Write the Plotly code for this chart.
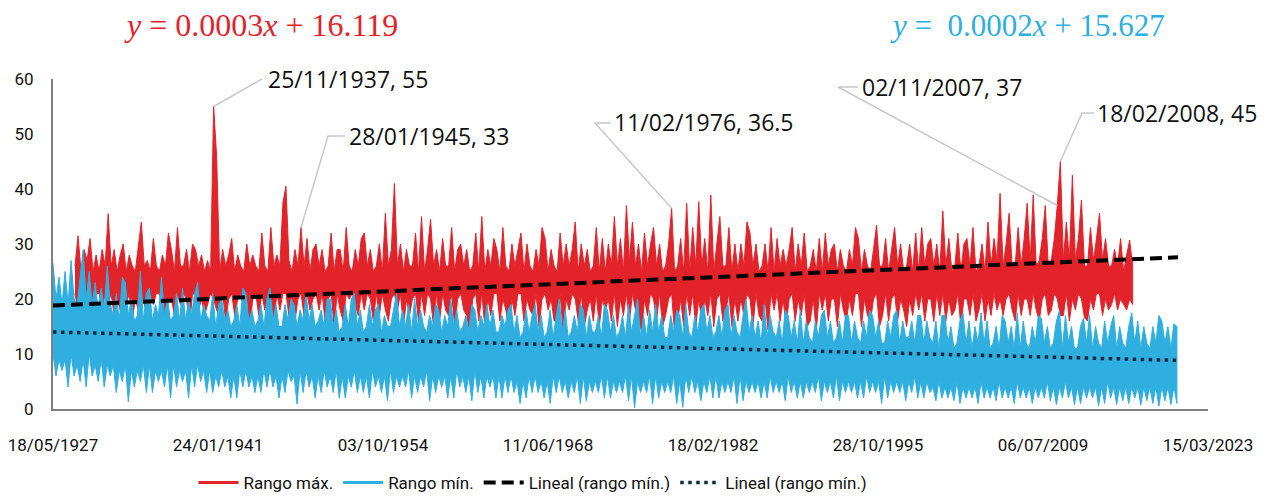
import plotly.graph_objects as go

# ---------------- data ----------------
# x axis: Excel-style serial day numbers (10000 = 18/05/1927)
tick_vals = [10000, 15000, 20000, 25000, 30000, 35000, 40000, 45000]
tick_text = ["18/05/1927", "24/01/1941", "03/10/1954", "11/06/1968",
             "18/02/1982", "28/10/1995", "06/07/2009", "15/03/2023"]

step_days = 91.31          # width of one sampled column (days)
red_start = 10667          # first serial of "Rango máx."
blue_start = 10000         # first serial of "Rango mín."

# "Rango máx." : per-column upper and lower values (4 columns per year)
rango_max_hi = [
    26, 31.5, 25, 29,  27, 31, 25, 28,  25, 29, 26, 35.5,  26, 29, 25, 28,
    30, 25, 28, 26,  25, 29, 34, 26,  27, 25, 31, 26,  25, 28, 26, 32,
    29, 25, 33, 26,  26, 29, 25, 30,  29, 26, 28, 25,  27, 25, 55, 46,
    25, 29, 26, 28,  31, 25, 28, 26,  25, 30, 26, 28,  26, 25, 32, 26,
    25, 33, 26, 28,  26, 37.5, 40.5, 27,  25, 29, 26, 33,  26, 31, 25, 29,
    30, 26, 29, 25,  26, 32, 25, 29,  29, 25, 33, 26,  25, 29, 26, 31,
    32, 26, 29, 25,  26, 30, 25, 35.6,  26, 29, 41, 26,  30, 25, 29, 26,
    26, 32, 25, 35,  25, 29, 34.5, 26,  29, 25, 31, 26,  26, 33, 25, 29,
    30, 26, 29, 25,  26, 32, 25, 35,  25, 29, 26, 31,  29, 25, 33, 26,
    25, 30, 26, 29,  32, 25, 30, 26,  25, 29, 26, 33,  31, 25, 29, 26,
    25, 32, 26, 30,  26, 29, 34, 25,  30, 26, 29, 25,  26, 33, 25, 31,
    25, 30, 26, 35,  26, 31, 25, 37,  27, 34, 26, 30,  25, 32, 26, 30,
    33, 26, 30, 25,  26, 30, 36.5, 25,  26, 31, 25, 37.4,  25, 33, 26, 37.7,
    26, 31, 25, 38.9,  25, 30, 35, 26,  26, 33, 25, 30,  25, 30, 26, 34,
    32, 26, 30, 25,  26, 30, 25, 33,  25, 31, 26, 29,  26, 29, 33, 25,
    30, 26, 32, 25,  26, 29, 25, 31,  25, 32, 26, 29,  30, 25, 29, 26,
    25, 29, 26, 33,  31, 25, 29, 26,  25, 29, 33.4, 26,  26, 31, 25, 29,
    33, 26, 30, 25,  26, 30, 25, 32,  25, 33, 26, 30,  31, 26, 30, 25,
    36, 26, 31, 25,  26, 32, 25, 30,  31, 26, 33, 25,  26, 30, 25, 34,
    26, 31, 27, 39.2,  26, 30, 35.6, 26,  26, 33, 26, 31,  37.4, 27, 38.9, 26,
    27, 31, 37, 26,  27, 31, 37, 45,  27, 34, 27, 42.5,  27, 31, 38, 26,
    26, 33, 27, 31,  35.6, 27, 31, 26,  26, 29, 26, 31,  25, 28, 30.7, 26,
]
rango_max_lo = [
    21, 18, 21, 19,  20, 21, 17, 21,  21, 18, 21, 19,  21, 17, 20, 18,
    21, 19, 21, 16,  20, 18, 21, 19,  17, 21, 19, 21,  21, 18, 16, 20,
    20, 17, 21, 19,  21, 20, 15, 21,  21, 18, 20, 17,  19, 21, 20, 18,
    17, 21, 16, 20,  21, 17, 20, 21,  18, 21, 15, 20,  21, 17, 21, 18,
    20, 21, 16, 21,  18, 21, 21, 17,  21, 16, 20, 21,  17, 21, 18, 20,
    21, 18, 21, 16,  20, 21, 15, 21,  18, 16, 21, 20,  21, 19, 17, 21,
    18, 21, 20, 16,  21, 17, 21, 18,  16, 20, 21, 18,  21, 15, 20, 17,
    20, 21, 16, 21,  17, 21, 20, 15,  21, 16, 21, 18,  17, 21, 15, 20,
    21, 18, 17, 14,  20, 21, 16, 21,  15, 20, 17, 21,  21, 16, 20, 18,
    14, 20, 17, 21,  21, 16, 20, 18,  17, 21, 15, 20,  21, 18, 20, 16,
    16, 21, 14, 20,  18, 21, 20, 16,  21, 15, 18, 20,  16, 21, 15, 20,
    18, 20, 16, 21,  15, 20, 17, 21,  16, 21, 18, 17,  14, 20, 17, 21,
    20, 16, 21, 15,  17, 20, 21, 13.8,  16, 20, 15, 21,  17, 21, 15, 20,
    16, 20, 17, 21,  15, 20, 21, 16,  18, 21, 15, 20,  16, 20, 17, 21,
    20, 15, 21, 17,  16, 20, 14.4, 21,  18, 21, 16, 20,  15, 20, 21, 16,
    20, 17, 21, 15,  16, 20, 14, 21,  18, 21, 16, 20,  20, 15, 21, 18,
    16, 20, 17, 21,  21, 15, 20, 17,  16, 20, 21, 15,  17, 21, 16, 20,
    21, 16, 20, 18,  15, 20, 17, 21,  18, 21, 16, 20,  20, 15.9, 21, 17,
    21, 16, 20, 17,  18, 21, 15, 20,  20, 17, 21, 16,  18, 21, 16, 20,
    17, 21, 18, 20,  17, 20, 21, 18,  16, 21, 17, 20,  20, 17, 21, 18,
    16, 20, 21, 17,  18, 21, 20, 17,  17, 21, 16, 20,  18, 21, 20, 16.7,
    16, 20, 18, 21,  21, 17, 20, 18,  19, 21, 18, 20,  19, 18, 20, 19,
]

# "Rango mín." : per-column upper and lower values (4 columns per year)
rango_min_hi = [
    26.5, 20, 24, 19,  25, 19, 27, 20,  19, 24, 28.9, 20,  25, 19, 23, 18,
    22, 18, 26, 19,  17, 21, 16, 24,  23, 17, 20, 16,  17, 25, 16, 21,
    22, 16, 19, 17,  24, 17, 20, 16,  17, 21, 16, 22,  16, 20, 17, 21,
    23, 16, 19, 17,  16, 21, 15, 19,  20, 16, 18, 15,  16, 19, 15, 22,
    21, 16, 18, 15,  16, 19, 15, 20,  22, 16, 19, 15,  15, 19, 16, 20,
    19, 15, 18, 16,  21, 16, 19, 15,  16, 18, 15, 20,  20, 15, 18, 14,
    15, 19, 15, 20,  21, 15, 18, 14,  15, 19, 15, 18,  19, 14, 17, 15,
    15, 18, 21, 15,  18, 15, 19, 14,  20, 15, 18, 15,  14, 17, 15, 19,
    18, 14, 17, 15,  20, 15, 18, 14,  15, 17, 14, 19,  18, 14, 17, 15,
    19, 15, 18, 14,  14, 17, 15, 18,  19, 14, 17, 13,  14, 18, 14, 17,
    19, 14, 17, 13,  14, 18, 13, 17,  20, 14, 18, 13,  14, 17, 14, 19,
    18, 13, 17, 14,  14, 17, 13, 19,  18, 14, 17, 13,  14, 17, 13, 19,
    14, 17, 20, 13,  17, 13, 18, 14,  19, 14, 17, 13,  13, 17, 14, 18,
    17, 13, 19, 14,  13, 17, 14, 18,  19, 14, 17, 13,  14, 17, 13, 18,
    19, 13, 17, 14,  13, 17, 20, 14,  17, 13, 16, 12,  19, 13, 17, 14,
    13, 16, 12, 18,  17, 13, 16, 12,  18, 12, 16, 13,  12, 16, 13, 17,
    18, 13, 16, 12,  13, 16, 12, 17,  17, 12, 16, 13,  12, 16, 13, 18,
    17, 13, 16, 12,  12, 16, 13, 17,  18, 12, 16, 13,  13, 16, 12, 17,
    17, 12, 16, 13,  12, 16, 11, 17,  17, 12, 15, 11,  12, 16, 17.5, 12,
    16, 11, 15, 12,  17.5, 12, 16, 11,  12, 15, 11, 17,  16, 12, 15, 11,
    17.5, 11, 16, 12,  11, 15, 12, 17,  16.5, 12, 15, 11,  12, 16, 17.9, 11,
    17, 12, 15, 11,  11, 15, 16.5, 12,  17, 11, 15, 12,  11, 16, 12, 15,
    17, 11, 15, 12,  11, 15, 17.5, 12,  16, 11, 15, 12,  11, 15, 12, 17,
    16, 12, 15, 11,  15.5, 15,
]
rango_min_lo = [
    10, 6, 9, 7,  9, 4, 10, 6,  8, 5, 9, 4,  10, 6, 8, 5,
    9, 4, 8, 6,  8, 3, 7, 5,  8, 1.3, 7, 4,  7, 5, 8, 3,
    8, 3, 7, 5,  7, 4, 8, 2,  8, 4, 7, 5,  7, 2, 8, 4,
    8, 5, 7, 3,  7, 3, 6, 4,  7, 4, 6, 2,  6, 2, 7, 4,
    7, 4, 6, 3,  6, 3, 7, 4,  7, 4, 6, 2,  6, 3, 7, 5,
    6, 0.9, 7, 3,  7, 4, 6, 2,  6, 3, 7, 4,  6, 3, 7, 2,
    6, 2, 6, 4,  7, 3, 6, 3,  6, 2, 7, 4,  6, 3, 6, 1.5,
    7, 3, 6, 4,  6, 4, 7, 2,  6, 3, 6, 4,  7, 1.5, 6, 3,
    6, 4, 6, 2,  6, 2, 7, 4,  6, 3, 6, 1.5,  7, 3, 6, 2,
    6, 4, 6, 2,  6, 2, 6, 3,  6, 3, 5, 1,  5, 2, 6, 3,
    6, 3, 5, 2,  5, 1, 6, 3,  6, 3, 5, 2,  5, 3, 6, 1,
    6, 1.5, 5, 3,  5, 3, 6, 2,  6, 2, 5, 3,  5, 3, 6, 1.5,
    6, 0.2, 5, 3,  5, 3, 6, 1,  6, 2, 5, 3,  5, 3, 6, 1,
    5, 0.3, 6, 3,  6, 3, 5, 1.5,  5, 3, 6, 2,  6, 2, 5, 3,
    5, 3, 6, 1,  6, 1.5, 5, 3,  5, 3, 5, 2,  5, 2, 6, 3,
    5, 3, 5, 1.5,  6, 3, 5, 2,  5, 2, 5, 3,  5, 3, 6, 1.5,
    5, 3, 5, 2,  6, 1.5, 5, 3,  5, 3, 5, 2,  5, 2, 6, 3,
    5, 3, 5, 1,  6, 2, 5, 3,  5, 3, 5, 1.5,  5, 3, 6, 2,
    5, 2, 5, 3,  4, 1.5, 5, 2,  4, 2, 4, 1.5,  5, 1, 4, 2,
    4, 2, 4, 1,  5, 2, 4, 2,  4, 1.5, 5, 2,  4, 2, 4, 1,
    5, 2, 4, 2,  4, 1, 4, 2,  4, 2, 5, 1.5,  4, 0.8, 4, 2,
    5, 2, 4, 0.8,  4, 1, 4, 2,  4, 2, 4, 0.6,  4, 1, 5, 2,
    4, 0.8, 4, 1.5,  4, 1, 4, 2,  4, 0.7, 4, 1.5,  4, 1, 4, 0.5,
    4, 1.5, 4, 0.8,  4, 1,
]

# linear trend lines (end points)
trend_max_x = [10000, 44091]
trend_max_y = [18.8, 27.6]
trend_min_x = [10000, 44091]
trend_min_y = [14.0, 8.85]

# callouts: text and index of the column of "Rango máx." they point at
callout_text = ["25/11/1937, 55", "28/01/1945, 33", "11/02/1976, 36.5",
                "02/11/2007, 37", "18/02/2008, 45"]
callout_idx = [46, 75, 198, 326, 327]

eq_max = "<i>y</i> = 0.0003<i>x</i> + 16.119"
eq_min = "<i>y</i> =  0.0002<i>x</i> + 15.627"

# ---------------- figure ----------------
RED = "#E3232A"
BLUE = "#2FAEE0"
NAVY = "#0E2841"

X0, X1 = 10000, 45000
Y0, Y1 = 0, 60
L, T, W_PLOT, H_PLOT = 53, 79, 1155, 330
W, H = 1277, 496


def band(start, hi, lo):
    n = min(len(hi), len(lo))
    xs = [start + i * step_days for i in range(n)]
    return xs, xs + xs[::-1], list(hi[:n]) + list(lo[:n])[::-1]


red_x, red_px, red_py = band(red_start, rango_max_hi, rango_max_lo)
blue_x, blue_px, blue_py = band(blue_start, rango_min_hi, rango_min_lo)

fig = go.Figure()
fig.add_trace(go.Scatter(x=red_px, y=red_py, mode="lines", fill="toself",
                         fillcolor=RED, line=dict(color=RED, width=1),
                         showlegend=False, hoverinfo="skip"))
fig.add_trace(go.Scatter(x=[None], y=[None], mode="lines", name="Rango máx.",
                         line=dict(color=RED, width=3)))
fig.add_trace(go.Scatter(x=blue_px, y=blue_py, mode="lines", fill="toself",
                         fillcolor=BLUE, line=dict(color=BLUE, width=1),
                         showlegend=False, hoverinfo="skip"))
fig.add_trace(go.Scatter(x=[None], y=[None], mode="lines", name="Rango mín.",
                         line=dict(color=BLUE, width=3)))
fig.add_trace(go.Scatter(x=trend_max_x, y=trend_max_y, mode="lines",
                         name="Lineal (rango mín.)",
                         line=dict(color="black", width=4, dash="12px,6px")))
fig.add_trace(go.Scatter(x=trend_min_x, y=trend_min_y, mode="lines",
                         name="Lineal (rango mín.)",
                         line=dict(color=NAVY, width=3.5, dash="3.5px,4.5px")))


def to_paper(x, y):
    return (x - X0) / (X1 - X0), (y - Y0) / (Y1 - Y0)


def px_to_paper(px, py):
    return (px - L) / W_PLOT, (T + H_PLOT - py) / H_PLOT


# leader elbows (pixel layout positions) and label left edge
elbows = [[(262, 79)], [(328, 136), (345, 136)], [(595, 123), (611, 123)],
          [(838, 87), (858, 87)], [(1082, 113), (1094, 113)]]
label_pos = [(266, 79), (347, 136), (612, 122), (860, 87), (1095, 113)]

shapes = []
annotations = []
for txt, idx, elb, (lx, ly) in zip(callout_text, callout_idx, elbows, label_pos):
    p0 = to_paper(red_x[idx], rango_max_hi[idx])
    pts = [p0] + [px_to_paper(a, b) for a, b in elb]
    path = "M {} {}".format(*pts[0]) + "".join(" L {} {}".format(*p) for p in pts[1:])
    shapes.append(dict(type="path", xref="paper", yref="paper", path=path,
                       line=dict(color="#C8C8C8", width=1.5)))
    ax, ay = px_to_paper(lx, ly)
    annotations.append(dict(x=ax, y=ay, xref="paper", yref="paper", text=txt,
                            showarrow=False, xanchor="left", yanchor="middle",
                            font=dict(family="Open Sans", size=23, color="#111111")))

ex, ey = px_to_paper(261, 25)
annotations.append(dict(x=ex, y=ey, xref="paper", yref="paper", text=eq_max,
                        showarrow=False, xanchor="center", yanchor="middle",
                        font=dict(family="Liberation Serif", size=32, color=RED)))
ex, ey = px_to_paper(1027, 25)
annotations.append(dict(x=ex, y=ey, xref="paper", yref="paper", text=eq_min,
                        showarrow=False, xanchor="center", yanchor="middle",
                        font=dict(family="Liberation Serif", size=31, color=BLUE)))

COND = "Liberation Sans Narrow, Arial Narrow, Roboto, sans-serif"

fig.update_layout(
    width=W, height=H,
    margin=dict(l=L, r=W - L - W_PLOT, t=T, b=H - T - H_PLOT, autoexpand=False),
    paper_bgcolor="white", plot_bgcolor="white",
    showlegend=True,
    legend=dict(orientation="h", xref="container", yref="container",
                x=533 / W, xanchor="center", y=1 - 483 / H, yanchor="middle",
                font=dict(family=COND, size=17, color="#111111"),
                itemwidth=40, tracegroupgap=0, bgcolor="rgba(0,0,0,0)"),
    xaxis=dict(range=[X0, X1], tickvals=tick_vals, ticktext=tick_text,
               showgrid=False, zeroline=False, showline=True, linecolor="#808080",
               linewidth=2, ticks="", ticklabelstandoff=20, automargin=False,
               tickfont=dict(family=COND, size=17, color="#111111")),
    yaxis=dict(range=[Y0, Y1], dtick=10, showgrid=False, zeroline=False,
               showline=True, linecolor="#808080", linewidth=2, ticks="",
               ticklabelstandoff=14, automargin=False,
               tickfont=dict(family=COND, size=17, color="#111111")),
    shapes=shapes, annotations=annotations,
)

fig.write_html("out.html")
